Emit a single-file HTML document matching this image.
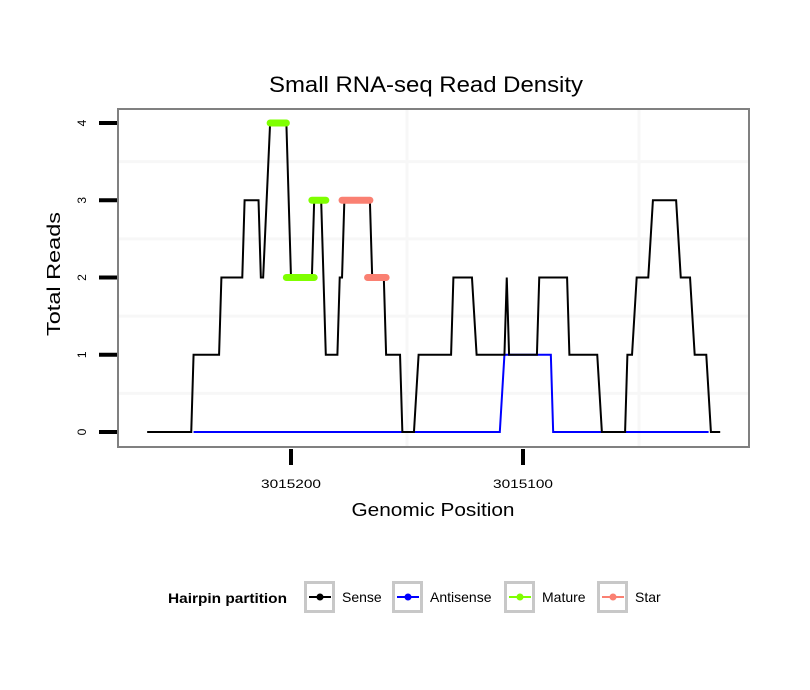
<!DOCTYPE html>
<html><head><meta charset="utf-8"><style>
body{margin:0;background:#fff;}
svg{display:block;font-family:"Liberation Sans",sans-serif;}
</style></head><body>
<svg id="chart" width="810" height="690" viewBox="0 0 810 690">
<rect x="0" y="0" width="810" height="690" fill="#fff"/>
<text x="426" y="92" font-size="22" text-anchor="middle" textLength="314" lengthAdjust="spacingAndGlyphs">Small RNA-seq Read Density</text>
<g id="grid"></g>
<g id="series"></g>
<rect x="118" y="109" width="631" height="338" fill="none" stroke="#808080" stroke-width="2"/>
<g id="axes"></g>
<text x="433" y="516" font-size="18" text-anchor="middle" textLength="163" lengthAdjust="spacingAndGlyphs">Genomic Position</text>
<text transform="translate(60,274) rotate(-90)" font-size="18" text-anchor="middle" textLength="124" lengthAdjust="spacingAndGlyphs">Total Reads</text>
<g>
<text x="168" y="603" font-size="14" font-weight="bold" textLength="119" lengthAdjust="spacingAndGlyphs">Hairpin partition</text>
<g id="legend"></g>
</g>
</svg>
<script>
const senseX=[3015262,3015243,3015242,3015231,3015230,3015221,3015220,3015214,3015213,3015212,3015209,3015202,3015200,3015191,3015190,3015187,3015185,3015180,3015179,3015178,3015177,3015166,3015165,3015160,3015159,3015153,3015152,3015147,3015145,3015131,3015130,3015122,3015120,3015108,3015107,3015106,3015094,3015093,3015081,3015080,3015068,3015066,3015056,3015055,3015053,3015051,3015046,3015044,3015034,3015032,3015028,3015026,3015021,3015019,3015015];
const senseY=[0,0,1,1,2,2,3,3,2,2,4,4,2,2,3,3,1,1,2,2,3,3,2,2,1,1,0,0,1,1,2,2,1,1,2,1,1,2,2,1,1,0,0,1,1,2,2,3,3,2,2,1,1,0,0];
const antiX=[3015242,3015110,3015108,3015088,3015087,3015020];
const antiY=[0,0,1,1,0,0];
const matureStart=[3015209,3015202,3015191];
const matureEnd=[3015202,3015190,3015185];
const matureVal=[4,2,3];
const starStart=[3015178,3015167];
const starEnd=[3015166,3015159];
const starVal=[3,2];
const xTicks=[3015200,3015100];
const xGrid=[3015150,3015050];
const yTicks=[0,1,2,3,4];
const yGrid=[0.5,1.5,2.5,3.5];
const legendLabels=["Sense","Antisense","Mature","Star"];
const legendColors=["#000000","#0000ff","#7fff00","#fa8072"];

const NS="http://www.w3.org/2000/svg";
const X=p=>291+(3015200-p)*2.32;
const Y=v=>432-v*77.25;
function mk(tag,attrs,parent){const e=document.createElementNS(NS,tag);for(const k in attrs)e.setAttribute(k,attrs[k]);parent.appendChild(e);return e;}
const grid=document.getElementById('grid'),series=document.getElementById('series'),axes=document.getElementById('axes'),legend=document.getElementById('legend');
yGrid.forEach(v=>{const l=mk('line',{x1:118,x2:749,y1:Y(v),y2:Y(v),stroke:'#f7f7f7','stroke-width':3},grid);

});
xGrid.forEach(p=>{const x=X(p);const l=mk('line',{x1:x,x2:x,y1:109,y2:447,stroke:'#f7f7f7','stroke-width':3},grid);

});
const ap=mk('polyline',{points:antiX.map((p,i)=>X(p)+','+Y(antiY[i])).join(' '),fill:'none',stroke:'#0000ff','stroke-width':2},series);


const sp=mk('polyline',{points:senseX.map((p,i)=>X(p)+','+Y(senseY[i])).join(' '),fill:'none',stroke:'#000','stroke-width':2},series);


matureStart.forEach((s,i)=>{const l=mk('line',{x1:X(s),x2:X(matureEnd[i]),y1:Y(matureVal[i]),y2:Y(matureVal[i]),stroke:'#7fff00','stroke-width':7,'stroke-linecap':'round'},series);

});
starStart.forEach((s,i)=>{const l=mk('line',{x1:X(s),x2:X(starEnd[i]),y1:Y(starVal[i]),y2:Y(starVal[i]),stroke:'#fa8072','stroke-width':7,'stroke-linecap':'round'},series);

});
yTicks.forEach(v=>{const t=mk('line',{x1:99,x2:117,y1:Y(v),y2:Y(v),stroke:'#000','stroke-width':4},axes);


const tx=mk('text',{transform:`translate(86,${Y(v)}) rotate(-90)`,'font-size':12,'text-anchor':'middle'},axes);tx.textContent=v;

});
xTicks.forEach(p=>{const t=mk('line',{x1:X(p),x2:X(p),y1:449,y2:465,stroke:'#000','stroke-width':4},axes);


const tx=mk('text',{x:X(p),y:488,'font-size':12,'text-anchor':'middle',textLength:60,lengthAdjust:'spacingAndGlyphs'},axes);tx.textContent=p;

});
const keyX=[304,392,504,597];
legendLabels.forEach((lab,i)=>{const g=mk('g',{},legend);


mk('rect',{x:keyX[i]+1.5,y:582.5,width:28,height:29,fill:'#fff',stroke:'#c8c8c8','stroke-width':3},g);
mk('line',{x1:keyX[i]+5,x2:keyX[i]+27,y1:597,y2:597,stroke:legendColors[i],'stroke-width':2},g);
mk('circle',{cx:keyX[i]+16,cy:597,r:3.5,fill:legendColors[i]},g);
const t=mk('text',{x:keyX[i]+38,y:602,'font-size':14},g);t.textContent=lab;});
</script>
</body></html>
